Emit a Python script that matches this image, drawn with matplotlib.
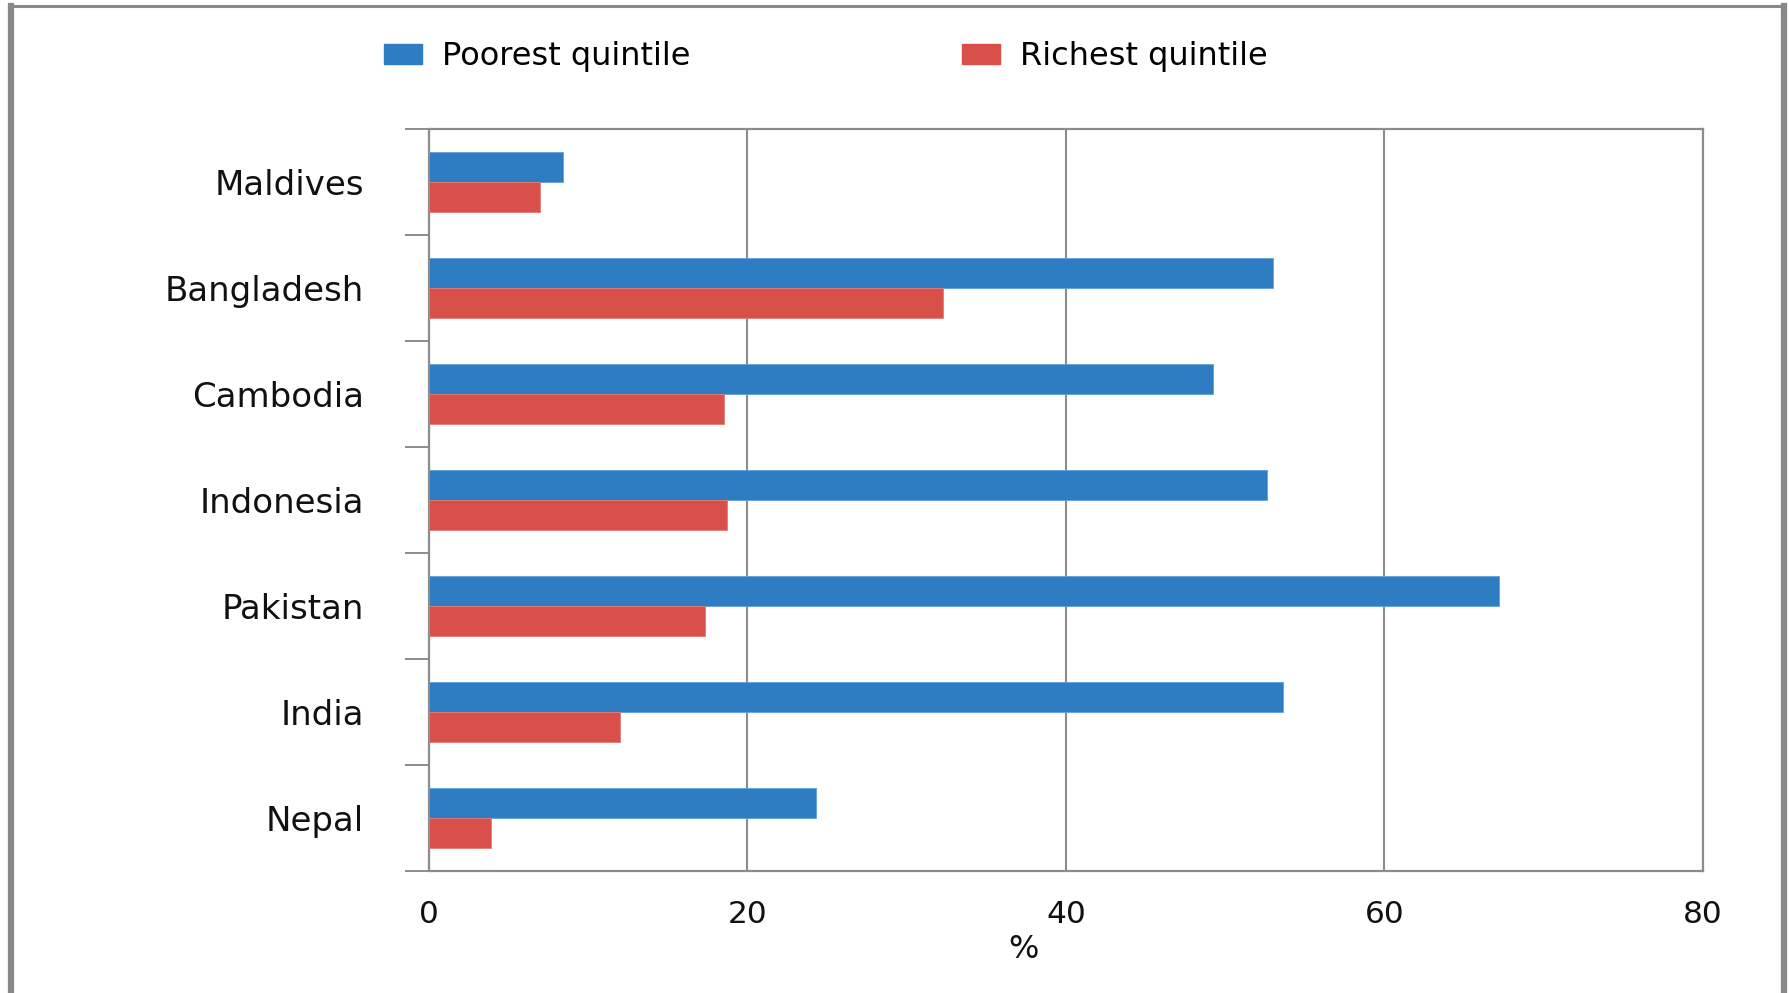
import matplotlib
matplotlib.use("Agg")
import matplotlib.pyplot as plt
from matplotlib.lines import Line2D
from matplotlib.patches import Patch
import numpy as np

countries = ["Maldives", "Bangladesh", "Cambodia", "Indonesia", "Pakistan", "India", "Nepal"]
poorest = [8.4, 53.0, 49.2, 52.6, 67.2, 53.6, 24.3]
richest = [7.0, 32.3, 18.5, 18.7, 17.3, 12.0, 3.9]
xticks = [0, 20, 40, 60, 80]
series_names = ["Poorest quintile", "Richest quintile"]

BLUE = "#2E7CC1"
RED = "#D94F4A"
GRAY = "#8C8C8C"

plt.rcParams['font.family'] = ['DejaVu Sans']

W, H = 1790, 993
fig = plt.figure(figsize=(W / 100, H / 100), dpi=100)
fig.patch.set_facecolor("white")
ax = fig.add_axes([429 / W, 1 - 871 / H, (1703 - 429) / W, (871 - 129) / H])

n = len(countries)
ypos = np.arange(n)[::-1]
h = 0.283
ax.barh(ypos + h / 2, poorest, height=h, color=BLUE, edgecolor="#5FA2DA", linewidth=0.6, zorder=3)
ax.barh(ypos - h / 2, richest, height=h, color=RED, edgecolor="#E57A75", linewidth=0.6, zorder=3)

ax.set_xlim(0, 80)
ax.set_ylim(-0.5, n - 0.5)
ax.set_xticks(xticks)
ax.set_xticklabels([str(v) for v in xticks])
ax.set_yticks(ypos)
ax.set_yticklabels(countries)
ax.set_yticks(np.arange(-0.5, n, 1.0), minor=True)

ax.grid(axis="x", color=GRAY, linewidth=1.5, zorder=1)
for s in ax.spines.values():
    s.set_color(GRAY)
    s.set_linewidth(1.6)

ax.tick_params(axis="y", which="major", length=0, pad=47, labelsize=24.5, labelcolor="#111111")
ax.tick_params(axis="y", which="minor", length=17, width=1.4, color=GRAY, direction="out")
ax.tick_params(axis="x", which="major", length=0, pad=21, labelsize=22.5, labelcolor="#111111")

ax.set_xlabel("%", fontsize=23, va="center", color="#111111")
ax.xaxis.set_label_coords((1023 - 429) / (1703 - 429), -(949 - 871) / (871 - 129))

handles = [Patch(facecolor=BLUE, edgecolor=BLUE), Patch(facecolor=RED, edgecolor=RED)]
fig.legend(handles, series_names, loc="center left",
           bbox_to_anchor=(385 / W - 0.006, 1 - 57 / H), ncol=2, frameon=False,
           fontsize=23, handlelength=1.19, handleheight=0.56, handletextpad=0.63,
           columnspacing=8.5, borderaxespad=0, borderpad=0.3)

# outer frame
fig.add_artist(Line2D([11 / W, 11 / W], [-0.01, 1 - 6 / H], transform=fig.transFigure, color="#888888", lw=4.5))
fig.add_artist(Line2D([1784 / W, 1784 / W], [-0.01, 1 - 6 / H], transform=fig.transFigure, color="#888888", lw=4.5))
fig.add_artist(Line2D([11 / W, 1784 / W], [1 - 6 / H, 1 - 6 / H], transform=fig.transFigure, color="#888888", lw=2.2))

fig.savefig("out.png", dpi=100)
